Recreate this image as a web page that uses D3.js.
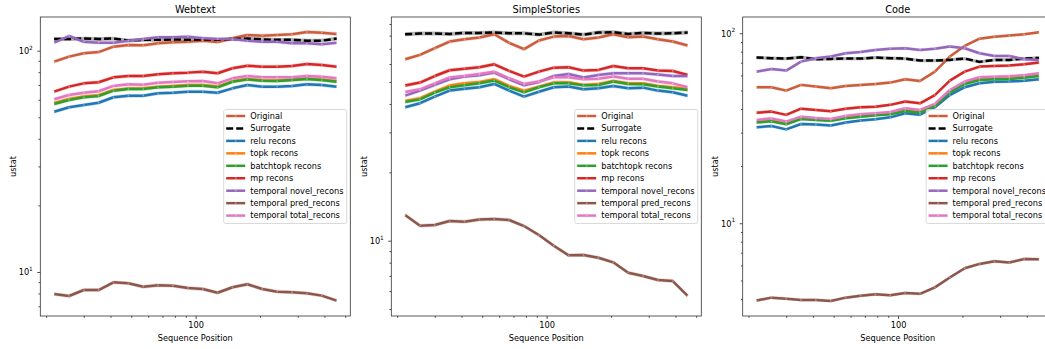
<!DOCTYPE html>
<html><head><meta charset="utf-8">
<script src="https://cdn.jsdelivr.net/npm/d3@7/dist/d3.min.js"></script>
<style>
body{margin:0;background:#fff;}
svg text{font-family:"DejaVu Sans",sans-serif;fill:#000;}
</style></head>
<body><svg id="chart" width="1045" height="349"></svg>
<script>
// ---------- data ----------
const positions = [21.8, 25.6, 30.0, 35.2, 41.3, 48.5, 56.9, 66.8, 78.4, 92.0, 108.0, 126.7, 148.7, 174.6, 204.9, 240.5, 282.3, 331.3, 388.8, 456.3];
const seriesNames = ["Original","Surrogate","relu recons","topk recons","batchtopk recons","mp recons","temporal novel_recons","temporal pred_recons","temporal total_recons"];
const panelTitles = ["Webtext","SimpleStories","Code"];
const xTickLabels = ["100"];

const webtextOriginal  = [89.2, 94.0, 97.3, 98.6, 104.3, 106.1, 105.8, 108.0, 109.1, 109.8, 111.0, 109.5, 113.8, 117.7, 116.9, 117.7, 118.6, 121.5, 120.6, 119.0];
const webtextSurrogate = [113, 113, 113.5, 113, 113.5, 111, 112, 112, 112.5, 112, 112.5, 112, 113, 113.5, 112.5, 112, 112, 111, 111, 113.5];
const webtextRelu      = [53.0, 55.5, 56.8, 58.2, 61.6, 62.6, 62.6, 64.2, 64.6, 65.3, 65.3, 64.6, 67.6, 70.0, 68.8, 68.8, 69.3, 70.5, 70.0, 68.8];
const webtextTopk      = [58.0, 60.5, 62.1, 62.9, 66.4, 67.5, 67.6, 68.7, 69.2, 69.9, 69.9, 68.9, 72.7, 74.5, 73.5, 73.3, 74.0, 74.8, 74.0, 72.8];
const webtextBatchtopk = [57.4, 59.9, 61.6, 62.4, 66.0, 67.1, 67.1, 68.3, 68.8, 69.5, 69.5, 68.3, 72.4, 74.2, 73.2, 72.9, 73.7, 74.5, 73.7, 72.4];
const webtextMp        = [65.3, 68.8, 71.2, 72.0, 75.8, 76.9, 76.9, 78.2, 79.1, 79.6, 80.4, 79.1, 83.3, 85.5, 84.7, 84.7, 85.3, 87.1, 86.2, 84.7];
const webtextNovel     = [108.7, 116.5, 109.8, 108.7, 108.7, 111.0, 112.9, 114.9, 114.9, 115.7, 113.8, 112.9, 112.9, 111.0, 109.8, 109.8, 108.0, 108.0, 106.9, 108.7];
const webtextPred      = [7.95, 7.79, 8.29, 8.29, 8.98, 8.89, 8.58, 8.71, 8.67, 8.47, 8.38, 8.06, 8.53, 8.80, 8.38, 8.15, 8.10, 8.01, 7.82, 7.42];
const webtextTotal     = [60.3, 63.1, 64.6, 65.6, 69.3, 70.5, 70.2, 71.7, 72.2, 72.7, 72.9, 71.2, 75.0, 76.9, 75.8, 75.8, 75.8, 76.9, 76.3, 75.0];

const storiesOriginal  = [62.9, 65.8, 70.4, 75.3, 77.1, 78.4, 81.1, 74.3, 69.7, 76.1, 79.2, 79.7, 77.1, 78.4, 81.1, 78.7, 79.2, 77.1, 75.3, 72.3];
const storiesSurrogate = [81.1, 81.7, 81.7, 81.4, 82.2, 82.2, 82.5, 81.9, 81.9, 80.8, 82.5, 81.9, 80.8, 82.5, 82.8, 81.4, 82.2, 81.7, 81.9, 82.5];
const storiesRelu      = [38.7, 40.3, 43.1, 45.8, 46.7, 47.4, 49.0, 45.8, 43.1, 45.3, 47.4, 47.7, 46.4, 46.9, 48.0, 46.9, 47.2, 45.8, 45.0, 43.5];
const storiesTopk      = [41.2, 42.4, 45.3, 48.2, 49.3, 50.0, 51.4, 48.0, 45.8, 47.7, 49.7, 49.8, 48.5, 49.0, 50.5, 49.3, 49.3, 48.0, 47.4, 46.6];
const storiesBatchtopk = [40.8, 41.9, 44.9, 47.4, 48.3, 49.3, 50.7, 47.4, 45.0, 47.4, 49.3, 49.3, 48.3, 48.5, 50.2, 49.0, 48.8, 47.7, 46.9, 46.1];
const storiesMp        = [48.2, 49.7, 53.1, 56.3, 57.2, 58.0, 59.8, 55.9, 52.8, 55.5, 57.8, 58.0, 56.1, 56.5, 58.8, 57.4, 57.4, 56.1, 55.9, 53.7];
const storiesNovel     = [43.5, 45.8, 48.5, 51.4, 52.8, 53.5, 55.0, 51.4, 48.3, 50.0, 53.1, 54.2, 52.3, 53.7, 54.6, 54.6, 54.6, 53.9, 53.1, 53.1];
const storiesPred      = [12.97, 11.64, 11.72, 12.20, 12.12, 12.41, 12.46, 12.33, 11.60, 10.59, 9.50, 8.62, 8.65, 8.41, 8.03, 7.23, 6.99, 6.71, 6.64, 5.71];
const storiesTotal     = [45.2, 46.4, 49.3, 52.3, 53.1, 54.2, 55.5, 51.9, 49.0, 50.2, 52.4, 52.4, 51.4, 51.6, 52.8, 51.6, 51.6, 50.2, 49.3, 47.4];

const codeOriginal  = [52.0, 52.0, 49.9, 53.5, 52.4, 51.4, 52.8, 53.5, 54.1, 55.0, 57.3, 56.1, 62.8, 75.4, 85.8, 93.7, 96.0, 97.2, 98.8, 101.2];
const codeSurrogate = [74.5, 73.9, 73.6, 74.8, 73.0, 73.3, 73.6, 73.6, 74.5, 73.9, 73.6, 71.8, 71.8, 72.4, 73.6, 70.7, 72.4, 72.4, 73.6, 74.2];
const codeRelu      = [32.0, 32.5, 31.2, 33.3, 33.1, 32.7, 33.9, 34.7, 35.3, 36.1, 37.9, 37.3, 40.8, 47.3, 52.0, 54.6, 55.5, 55.7, 56.3, 57.3];
const codeTopk      = [34.2, 34.7, 33.5, 35.7, 35.3, 34.9, 36.0, 36.7, 37.3, 37.8, 39.3, 38.5, 41.8, 49.1, 54.6, 57.3, 57.8, 58.0, 58.9, 60.1];
const codeBatchtopk = [33.9, 34.4, 33.2, 35.4, 35.0, 34.6, 35.7, 36.4, 37.0, 37.5, 39.0, 38.2, 41.4, 48.7, 54.1, 56.8, 57.3, 57.5, 58.4, 59.6];
const codeMp        = [38.2, 38.7, 37.2, 40.1, 39.5, 38.9, 40.1, 40.8, 41.1, 42.0, 43.7, 42.8, 47.3, 56.3, 62.8, 66.8, 67.3, 67.6, 68.7, 70.1];
const codeNovel     = [62.8, 64.9, 63.6, 70.9, 73.9, 75.4, 78.5, 79.8, 81.7, 83.0, 83.4, 81.7, 83.0, 85.1, 83.4, 78.5, 76.0, 76.0, 73.0, 72.4];
const codePred      = [3.92, 4.06, 4.01, 3.95, 3.95, 3.90, 4.06, 4.15, 4.23, 4.18, 4.30, 4.25, 4.60, 5.18, 5.80, 6.11, 6.31, 6.21, 6.49, 6.46];
const codeTotal     = [35.0, 35.6, 34.3, 36.4, 35.8, 35.4, 36.7, 37.5, 37.9, 38.5, 40.3, 39.5, 42.5, 50.3, 55.7, 58.7, 59.1, 59.4, 60.1, 61.6];

const panelSeries = [
  [webtextOriginal, webtextSurrogate, webtextRelu, webtextTopk, webtextBatchtopk, webtextMp, webtextNovel, webtextPred, webtextTotal],
  [storiesOriginal, storiesSurrogate, storiesRelu, storiesTopk, storiesBatchtopk, storiesMp, storiesNovel, storiesPred, storiesTotal],
  [codeOriginal, codeSurrogate, codeRelu, codeTopk, codeBatchtopk, codeMp, codeNovel, codePred, codeTotal]
];

// ---------- styles / layout ----------
const colors = ["#cc5c3a","#000000","#1f77b4","#ff7f0e","#2ca02c","#d62728","#9467bd","#8c564b","#e377c2"];
const xDomain = [18.79, 528.4];
const yDomains = [[6.326, 142.0],[4.66, 96.6],[3.25, 121.8]];
const panelLefts = [40.3, 391.3, 742.7];
const pw = 310, plotTop = 17, plotBottom = 316;
const fs = 8.2;

const svg = d3.select("#chart");

panelTitles.forEach((title, p) => {
  const left = panelLefts[p];
  const x = d3.scaleLog().domain(xDomain).range([left, left + pw]);
  const y = d3.scaleLog().domain(yDomains[p]).range([plotBottom, plotTop]);
  const g = svg.append("g");

  const clipId = "clip" + p;
  svg.append("clipPath").attr("id", clipId).append("rect")
    .attr("x", left).attr("y", plotTop).attr("width", pw).attr("height", plotBottom - plotTop);
  const plot = g.append("g").attr("clip-path", `url(#${clipId})`);

  const line = d3.line().x((d,i) => x(positions[i])).y(d => y(d));
  const area = d3.area().x((d,i) => x(positions[i])).y0(d => y(d * 0.98)).y1(d => y(d * 1.02));

  panelSeries[p].forEach((vals, s) => {
    plot.append("path").datum(vals).attr("d", area)
      .attr("fill", colors[s]).attr("fill-opacity", s === 1 ? 0.3 : 0.22).attr("stroke", "none");
  });
  panelSeries[p].forEach((vals, s) => {
    const path = plot.append("path").datum(vals).attr("d", line)
      .attr("fill", "none").attr("stroke", colors[s]).attr("stroke-width", 2.5)
      .attr("stroke-linejoin", "round");
    if (s === 1) path.attr("stroke-dasharray", "7,3");
    else {
      plot.selectAll(null).data(vals).enter().append("circle")
        .attr("cx", (d,i) => x(positions[i])).attr("cy", d => y(d)).attr("r", 0.9)
        .attr("fill", "#fff").attr("fill-opacity", 0.35);
    }
  });

  // axes
  const xMinor = [20,30,40,50,60,70,80,90,200,300,400,500];
  const xMaj = d3.axisBottom(x).tickValues([100]).tickSize(3).tickFormat((d,i) => xTickLabels[i]);
  const xMin = d3.axisBottom(x).tickValues(xMinor).tickSize(1.8).tickFormat("");
  const gx = g.append("g").attr("transform", `translate(0,${plotBottom})`).call(xMaj);
  g.append("g").attr("transform", `translate(0,${plotBottom})`).call(xMin);
  gx.selectAll("text").attr("font-size", fs).attr("dy", null).attr("y", 12.2);

  const [y0, y1] = yDomains[p];
  const yMajVals = [], yMinVals = [];
  for (let e = -1; e <= 3; e++) {
    for (let m = 1; m <= 9; m++) {
      const v = m * Math.pow(10, e);
      if (v >= y0 && v <= y1) (m === 1 ? yMajVals : yMinVals).push(v);
    }
  }
  const yMaj = d3.axisLeft(y).tickValues(yMajVals).tickSize(3).tickFormat("");
  const yMin = d3.axisLeft(y).tickValues(yMinVals).tickSize(1.8).tickFormat("");
  const gy = g.append("g").attr("transform", `translate(${left},0)`).call(yMaj);
  g.append("g").attr("transform", `translate(${left},0)`).call(yMin);
  gy.selectAll(".tick").each(function(d) {
    const t = d3.select(this).append("text").attr("x", -7.5).attr("dy", "0.35em")
      .attr("text-anchor", "end").attr("font-size", fs);
    t.append("tspan").text("10");
    t.append("tspan").attr("font-size", 5.8).attr("dy", "-0.75em").text(String(Math.round(Math.log10(d))));
  });
  g.selectAll(".domain").remove();
  g.selectAll(".tick line").attr("stroke", "#000").attr("stroke-width", 0.7);

  // spines
  g.append("rect").attr("x", left).attr("y", plotTop).attr("width", pw).attr("height", plotBottom - plotTop)
    .attr("fill", "none").attr("stroke", "#333").attr("stroke-width", 0.8);

  // labels
  g.append("text").attr("x", left + pw/2).attr("y", 12.6).attr("text-anchor", "middle")
    .attr("font-size", 9.8).text(title);
  g.append("text").attr("x", left + pw/2).attr("y", 340.8).attr("text-anchor", "middle")
    .attr("font-size", fs).text("Sequence Position");
  g.append("text").attr("transform", `translate(${left - 24.5},${(plotTop+plotBottom)/2}) rotate(-90)`)
    .attr("text-anchor", "middle").attr("font-size", fs).text("ustat");

  // legend
  const lw = 123, lh = 114;
  const lx = left + pw - 3.6 - lw, ly = (plotTop + plotBottom)/2 - lh/2;
  const lg = g.append("g");
  lg.append("rect").attr("x", lx).attr("y", ly).attr("width", lw).attr("height", lh)
    .attr("rx", 2).attr("fill", "#fff").attr("fill-opacity", 0.8).attr("stroke", "#d0d0d0").attr("stroke-width", 0.8);
  seriesNames.forEach((name, s) => {
    const cy = ly + 6.5 + s * 12.45;
    const hl = lg.append("line").attr("x1", lx + 2.5).attr("x2", lx + 21.5).attr("y1", cy).attr("y2", cy)
      .attr("stroke", colors[s]).attr("stroke-width", 2.5);
    if (s === 1) hl.attr("stroke-dasharray", "7,3");
    else lg.append("circle").attr("cx", lx + 12).attr("cy", cy).attr("r", 0.9).attr("fill", "#fff").attr("fill-opacity", 0.35);
    lg.append("text").attr("x", lx + 26.5).attr("y", cy).attr("dy", "0.35em")
      .attr("font-size", fs).text(name);
  });
});
</script></body></html>
